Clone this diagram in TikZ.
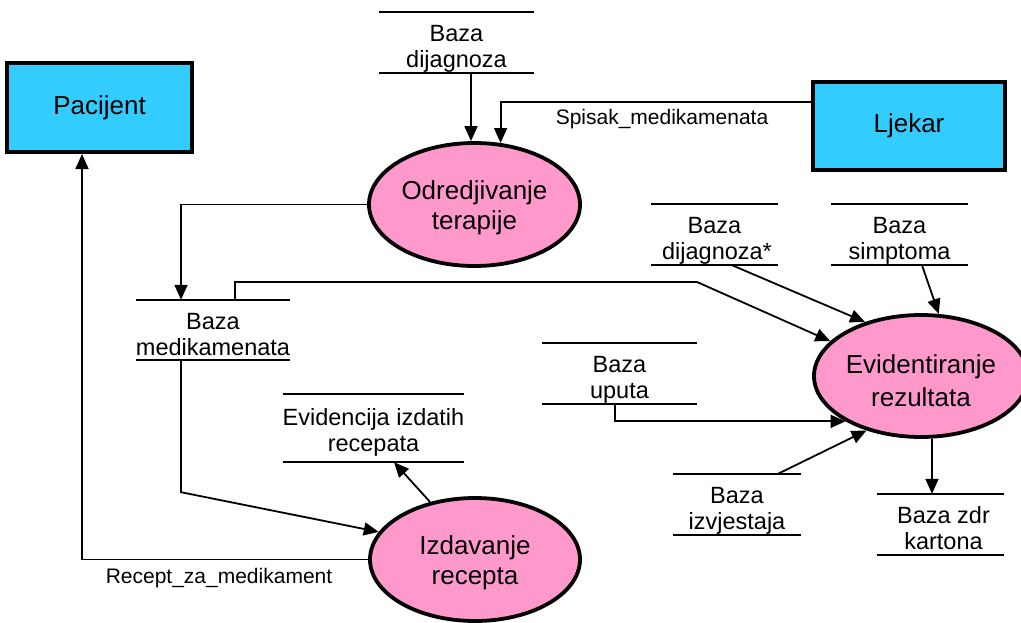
\documentclass[tikz,border=0pt]{standalone}
\usepackage{fontspec}
\setmainfont{Liberation Sans}
\usetikzlibrary{arrows.meta,shapes.geometric}
\definecolor{entblue}{HTML}{33CCFF}
\definecolor{procpink}{HTML}{FF99CC}
\newcommand{\ptxt}[2][29pt]{\begin{tabular}{@{}c@{}}\rule{0pt}{#1}#2\end{tabular}}
\newcommand{\stxt}[1]{\begin{tabular}[t]{@{}c@{}}#1\end{tabular}}
\tikzset{
  entity/.style={draw=black, line width=4pt, fill=entblue, rectangle, inner sep=0pt,
    font=\fontsize{26}{30}\selectfont},
  proc/.style={draw=black, line width=3.8pt, fill=procpink, ellipse, inner sep=0pt,
    font=\fontsize{26}{29.5}\selectfont},
  store/.style={rectangle, inner sep=0pt, font=\fontsize{23.5}{26}\selectfont,
    text height=29pt, text depth=32pt},
  storeline/.style={line width=1.8pt},
  flowlabel/.style={inner sep=0pt, font=\fontsize{21}{24}\selectfont},
  arr/.style={line width=1.8pt, -{Triangle[length=15pt,width=13pt]}},
}
\newcommand{\storelines}[1]{\draw[storeline] (#1.north west) -- (#1.north east) (#1.south west) -- (#1.south east);}
\begin{document}
\begin{tikzpicture}[x=1pt,y=-1pt]
\useasboundingbox (0,0) rectangle (1021,622);
% entities
\node[entity, minimum width=185pt, minimum height=89pt] (pac) at (99.5,107.5) {Pacijent\hspace{12pt}};
\node[entity, minimum width=192pt, minimum height=88pt] (lje) at (909,126) {Ljekar};
% processes
\node[proc, minimum width=211pt, minimum height=123pt] (odr) at (474.5,204.5) {\ptxt{Odredjivanje\\terapije}};
\node[proc, minimum width=210pt, minimum height=123pt] (izd) at (475,559.5) {\ptxt{Izdavanje\\recepta}};
\node[proc, minimum width=214pt, minimum height=122pt] (evi) at (921,376) {\ptxt[37pt]{Evidentiranje\\[3pt]rezultata}};
% stores
\node[store, minimum width=155pt] (sdij) at (456.5,42.5) {\stxt{Baza\\dijagnoza}};
\node[store, minimum width=154pt, text depth=31pt] (smed) at (213,330) {\stxt{Baza\\medikamenata}};
\node[store, minimum width=127pt] (sdij2) at (714.5,234.5) {\stxt{Baza\\\hspace*{5pt}dijagnoza*}};
\node[store, minimum width=137pt] (ssim) at (899.5,234.5) {\stxt{Baza\\simptoma}};
\node[store, minimum width=155pt] (sup) at (619.5,373.5) {\stxt{Baza\\uputa}};
\node[store, minimum width=173pt, text height=31pt, text depth=37pt] (sevi) at (373.5,428) {\stxt{Evidencija izdatih\\recepata}};
\node[store, minimum width=128pt] (sizv) at (737,504.5) {\stxt{Baza\\izvjestaja}};
\node[store, minimum width=127pt] (skar) at (940.5,524.5) {\stxt{\hspace*{6pt}Baza zdr\\\hspace*{6pt}kartona}};
\storelines{sdij}
\storelines{smed}
\storelines{sdij2}
\storelines{ssim}
\storelines{sup}
\storelines{sevi}
\storelines{sizv}
\storelines{skar}
% flow labels
\node[flowlabel] (lspis) at (662,119) {Spisak\_medikamenata};
\node[flowlabel] (lrec) at (219,578) {Recept\_za\_medikament};
% connectors
\draw[arr] ([xshift=14.5pt]sdij.south) -- ([xshift=14.5pt]sdij.south |- odr.north);
\draw[arr] ([yshift=24pt]lje.west) -| (odr.67.7);
\draw[arr] (odr.west) -| ([xshift=-32pt]smed.north);
\coordinate (b1) at (697,282);
\draw[arr] ([xshift=22pt]smed.north) |- (b1) -- (evi.159.5);
\draw[arr] ([xshift=17.5pt]sdij2.south) -- (evi.136.6);
\draw[arr] ([xshift=22.5pt]ssim.south) -- (evi.74.4);
\draw[arr] ([xshift=-4.5pt]sup.south) |- (evi.211.2);
\draw[arr] ([xshift=41pt]sizv.north) -- (evi.225);
\draw[arr] ([xshift=11pt]evi.south) -- ([xshift=11pt]evi.south |- skar.north);
\draw[arr] (izd.128.8) -- ([xshift=20.5pt]sevi.south);
\draw[arr] ([xshift=-32pt]smed.south) -- ++(0,132) -- (izd.164.4);
\draw[arr] (izd.west) -| ([xshift=-17.5pt]pac.south);
\end{tikzpicture}
\end{document}
